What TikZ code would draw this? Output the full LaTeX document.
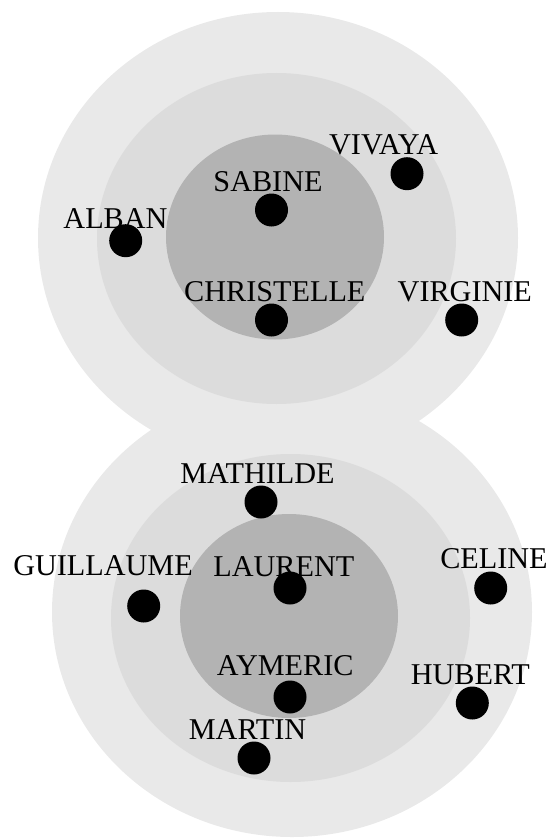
\documentclass[tikz,border=0pt]{standalone}
\usepackage{fontspec}
\setmainfont{Liberation Serif}
\usetikzlibrary{calc}
\definecolor{ringout}{RGB}{233,233,233}
\definecolor{ringmid}{RGB}{220,220,220}
\definecolor{ringin}{RGB}{179,179,179}

\begin{document}
\begin{tikzpicture}[x=0.5pt,y=-0.5pt,
    pdot/.style={circle,fill=black,inner sep=0pt,minimum size=16.5pt},
    ptext/.style={anchor=base,inner sep=0pt,font=\fontsize{15.1}{18}\selectfont}]
  \useasboundingbox (0,0) rectangle (551,840);
  % rings
  \fill[ringout] (278,238) ellipse [x radius=240, y radius=226];
  \fill[ringout] (292,612) ellipse [x radius=240, y radius=225];
  \fill[ringmid] (276.5,238.5) ellipse [x radius=179.5, y radius=165.5];
  \fill[ringmid] (290.5,618) ellipse [x radius=179.5, y radius=164];
  \fill[ringin] (275,237) ellipse [x radius=109, y radius=102.5];
  \fill[ringin] (289,616) ellipse [x radius=109, y radius=102];
  % top group
  \node[pdot] (alban) at (125.7,240.7) {};
  \node[pdot] (sabine) at (271.5,210) {};
  \node[pdot] (christelle) at (271.5,320) {};
  \node[pdot] (vivaya) at (407,173.7) {};
  \node[pdot] (virginie) at (461.7,320) {};
  \node[ptext] (alban-t) at ($(alban)+(-10.2,-12.4)$) {ALBAN};
  \node[ptext] (sabine-t) at ($(sabine)+(-3.5,-18.3)$) {SABINE};
  \node[ptext] (christelle-t) at ($(christelle)+(3.3,-18.3)$) {CHRISTELLE};
  \node[ptext] (vivaya-t) at ($(vivaya)+(-23.3,-18.7)$) {VIVAYA};
  \node[ptext] (virginie-t) at ($(virginie)+(3.1,-18.3)$) {VIRGINIE};
  % bottom group
  \node[pdot] (mathilde) at (261,502) {};
  \node[pdot] (guillaume) at (143.7,606) {};
  \node[pdot] (laurent) at (290,588) {};
  \node[pdot] (celine) at (490.7,588) {};
  \node[pdot] (aymeric) at (290,697) {};
  \node[pdot] (hubert) at (472.3,703) {};
  \node[pdot] (martin) at (254,758) {};
  \node[ptext] (mathilde-t) at ($(mathilde)+(-3.5,-18.7)$) {MATHILDE};
  \node[ptext] (guillaume-t) at ($(guillaume)+(-40.7,-30.3)$) {GUILLAUME};
  \node[ptext] (laurent-t) at ($(laurent)+(-6.2,-11.3)$) {LAURENT};
  \node[ptext] (celine-t) at ($(celine)+(3.3,-19.7)$) {CELINE};
  \node[ptext] (aymeric-t) at ($(aymeric)+(-4.8,-22)$) {AYMERIC};
  \node[ptext] (hubert-t) at ($(hubert)+(-2,-19)$) {HUBERT};
  \node[ptext] (martin-t) at ($(martin)+(-6.5,-18.7)$) {MARTIN};
\end{tikzpicture}
\end{document}
